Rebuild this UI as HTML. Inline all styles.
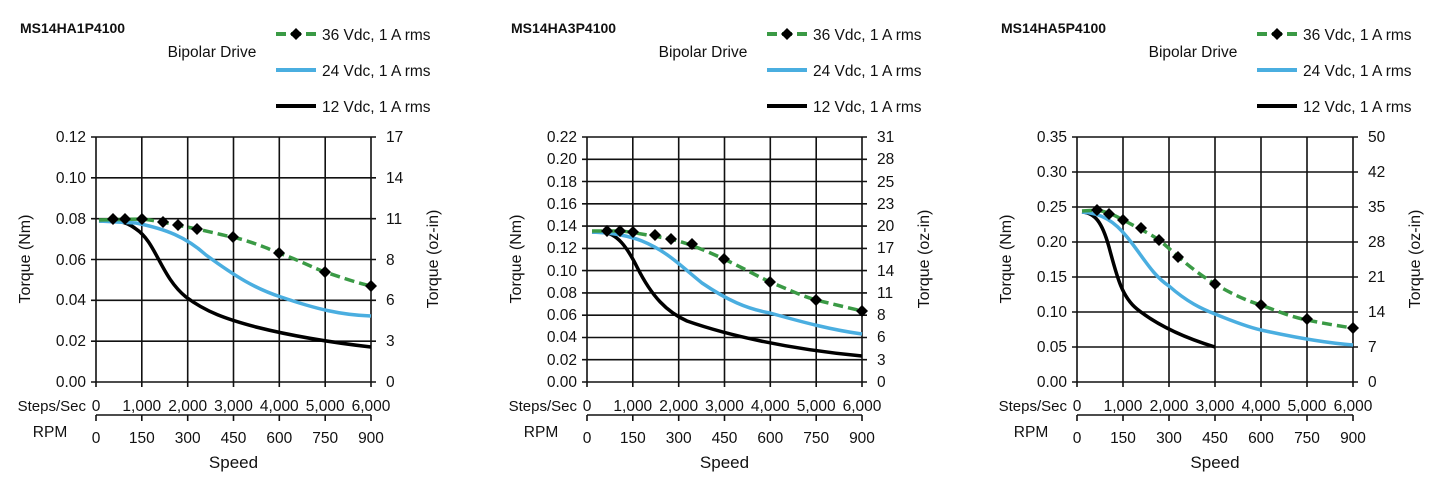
<!DOCTYPE html>
<html><head><meta charset="utf-8"><style>
html,body{margin:0;padding:0;background:#fff}
svg{display:block}
text{font-family:"Liberation Sans",Arial,sans-serif;fill:#111}
.t{font-size:15.5px}
.g{stroke:#111;stroke-width:1.6;fill:none}
</style></head><body>
<svg width="1446" height="491" viewBox="0 0 1446 491" xmlns="http://www.w3.org/2000/svg">
<defs>
<path id="dm" d="M0,-6 L6,0 L0,6 L-6,0Z" fill="#000"/>
</defs>

<!-- CHART 1 -->
<g transform="translate(96,137)">
<text x="-76" y="-104" font-size="14" font-weight="bold">MS14HA1P4100</text>
<text x="116" y="-80" class="t" text-anchor="middle">Bipolar Drive</text>
<line x1="180" y1="-103" x2="220" y2="-103" stroke="#3a9a45" stroke-width="4" stroke-dasharray="10,5"/><use href="#dm" x="200" y="-103"/>
<text x="226" y="-97" class="t">36 Vdc, 1 A rms</text>
<line x1="180" y1="-67" x2="220" y2="-67" stroke="#4aaee0" stroke-width="4"/>
<text x="226" y="-61" class="t">24 Vdc, 1 A rms</text>
<line x1="180" y1="-31" x2="220" y2="-31" stroke="#000" stroke-width="4"/>
<text x="226" y="-25" class="t">12 Vdc, 1 A rms</text>
<path class="g" d="M-5,0H280M-5,40.8H280M-5,81.7H280M-5,122.5H280M-5,163.3H280M-5,204.2H280M-5,245H280M0,0V250M45.8,0V250M91.7,0V250M137.5,0V250M183.3,0V250M229.2,0V250M275,0V250"/>
<g class="t" text-anchor="end"><text x="-10" y="5">0.12</text><text x="-10" y="46">0.10</text><text x="-10" y="87">0.08</text><text x="-10" y="128">0.06</text><text x="-10" y="168">0.04</text><text x="-10" y="209">0.02</text><text x="-10" y="250">0.00</text></g>
<g class="t"><text x="290" y="5">17</text><text x="290" y="46">14</text><text x="290" y="87">11</text><text x="290" y="128">8</text><text x="290" y="168">6</text><text x="290" y="209">3</text><text x="290" y="250">0</text></g>
<text transform="translate(-66,122) rotate(-90)" font-size="16" text-anchor="middle">Torque (Nm)</text>
<text transform="translate(342,122) rotate(-90)" font-size="16" text-anchor="middle">Torque (oz-in)</text>
<path d="M3,84 C20,83 30,84 40,92 C60,105 65,140 90,160 C110,175 130,182 160,190 C200,200 240,206 275,210" stroke="#000" stroke-width="3.5" fill="none"/>
<path d="M3,84 L40,86 C70,92 90,100 110,118 C140,140 160,152 185,160 C220,172 245,178 275,179" stroke="#4aaee0" stroke-width="3.5" fill="none"/>
<path d="M3,83 L46,82 C70,85 85,89 101,92 C120,96 130,99 137,100 C160,106 170,111 183,116 C205,124 215,130 229,135 C250,142 262,146 275,149" stroke="#3a9a45" stroke-width="3.5" stroke-dasharray="10,5" fill="none"/>
<use href="#dm" x="17" y="82"/><use href="#dm" x="29" y="82"/><use href="#dm" x="46" y="82"/><use href="#dm" x="67" y="85"/><use href="#dm" x="82" y="88"/><use href="#dm" x="101" y="92"/><use href="#dm" x="137" y="100"/><use href="#dm" x="183" y="116"/><use href="#dm" x="229" y="135"/><use href="#dm" x="275" y="149"/>
<g class="t" text-anchor="middle"><text x="0" y="274">0</text><text x="45.8" y="274">1,000</text><text x="91.7" y="274">2,000</text><text x="137.5" y="274">3,000</text><text x="183.3" y="274">4,000</text><text x="229.2" y="274">5,000</text><text x="275" y="274">6,000</text>
<text x="0" y="306">0</text><text x="45.8" y="306">150</text><text x="91.7" y="306">300</text><text x="137.5" y="306">450</text><text x="183.3" y="306">600</text><text x="229.2" y="306">750</text><text x="275" y="306">900</text>
<text x="-46" y="300">RPM</text><text x="137.5" y="331" font-size="17">Speed</text></g>
<text x="-10" y="274" font-size="15" text-anchor="end">Steps/Sec</text>
<path class="g" d="M0,278H275M0,278V284M45.8,278V284M91.7,278V284M137.5,278V284M183.3,278V284M229.2,278V284M275,278V284"/>
</g>

<!-- CHART 2 -->
<g transform="translate(587,137)">
<text x="-76" y="-104" font-size="14" font-weight="bold">MS14HA3P4100</text>
<text x="116" y="-80" class="t" text-anchor="middle">Bipolar Drive</text>
<line x1="180" y1="-103" x2="220" y2="-103" stroke="#3a9a45" stroke-width="4" stroke-dasharray="10,5"/><use href="#dm" x="200" y="-103"/>
<text x="226" y="-97" class="t">36 Vdc, 1 A rms</text>
<line x1="180" y1="-67" x2="220" y2="-67" stroke="#4aaee0" stroke-width="4"/>
<text x="226" y="-61" class="t">24 Vdc, 1 A rms</text>
<line x1="180" y1="-31" x2="220" y2="-31" stroke="#000" stroke-width="4"/>
<text x="226" y="-25" class="t">12 Vdc, 1 A rms</text>
<path class="g" d="M-5,0H280M-5,22.3H280M-5,44.5H280M-5,66.8H280M-5,89.1H280M-5,111.4H280M-5,133.6H280M-5,155.9H280M-5,178.2H280M-5,200.5H280M-5,222.7H280M-5,245H280M0,0V250M45.8,0V250M91.7,0V250M137.5,0V250M183.3,0V250M229.2,0V250M275,0V250"/>
<g class="t" text-anchor="end"><text x="-10" y="5">0.22</text><text x="-10" y="27">0.20</text><text x="-10" y="50">0.18</text><text x="-10" y="72">0.16</text><text x="-10" y="94">0.14</text><text x="-10" y="116">0.12</text><text x="-10" y="139">0.10</text><text x="-10" y="161">0.08</text><text x="-10" y="183">0.06</text><text x="-10" y="205">0.04</text><text x="-10" y="228">0.02</text><text x="-10" y="250">0.00</text></g>
<g class="t"><text x="290" y="5">31</text><text x="290" y="27">28</text><text x="290" y="50">25</text><text x="290" y="72">23</text><text x="290" y="94">20</text><text x="290" y="116">17</text><text x="290" y="139">14</text><text x="290" y="161">11</text><text x="290" y="183">8</text><text x="290" y="205">6</text><text x="290" y="228">3</text><text x="290" y="250">0</text></g>
<text transform="translate(-66,122) rotate(-90)" font-size="16" text-anchor="middle">Torque (Nm)</text>
<text transform="translate(342,122) rotate(-90)" font-size="16" text-anchor="middle">Torque (oz-in)</text>
<path d="M5,95 L15,95 C30,96 40,110 50,130 C65,160 80,175 100,184 C140,198 200,212 275,219" stroke="#000" stroke-width="3.5" fill="none"/>
<path d="M5,95 C25,96 40,98 55,104 C80,114 95,130 115,146 C140,163 160,172 183,176 C215,185 245,193 275,197" stroke="#4aaee0" stroke-width="3.5" fill="none"/>
<path d="M5,94 L35,94 C50,96 60,98 84,102 C100,106 115,112 137,122 C160,133 170,139 183,145 C205,154 215,159 229,163 C250,168 262,171 275,174" stroke="#3a9a45" stroke-width="3.5" stroke-dasharray="10,5" fill="none"/>
<use href="#dm" x="20" y="94"/><use href="#dm" x="33" y="94"/><use href="#dm" x="46" y="95"/><use href="#dm" x="68" y="98"/><use href="#dm" x="84" y="102"/><use href="#dm" x="105" y="107"/><use href="#dm" x="137" y="122"/><use href="#dm" x="183" y="145"/><use href="#dm" x="229" y="163"/><use href="#dm" x="275" y="174"/>
<g class="t" text-anchor="middle"><text x="0" y="274">0</text><text x="45.8" y="274">1,000</text><text x="91.7" y="274">2,000</text><text x="137.5" y="274">3,000</text><text x="183.3" y="274">4,000</text><text x="229.2" y="274">5,000</text><text x="275" y="274">6,000</text>
<text x="0" y="306">0</text><text x="45.8" y="306">150</text><text x="91.7" y="306">300</text><text x="137.5" y="306">450</text><text x="183.3" y="306">600</text><text x="229.2" y="306">750</text><text x="275" y="306">900</text>
<text x="-46" y="300">RPM</text><text x="137.5" y="331" font-size="17">Speed</text></g>
<text x="-10" y="274" font-size="15" text-anchor="end">Steps/Sec</text>
<path class="g" d="M0,278H275M0,278V284M45.8,278V284M91.7,278V284M137.5,278V284M183.3,278V284M229.2,278V284M275,278V284"/>
</g>

<!-- CHART 3 -->
<g transform="translate(1077,137)">
<text x="-76" y="-104" font-size="14" font-weight="bold">MS14HA5P4100</text>
<text x="116" y="-80" class="t" text-anchor="middle">Bipolar Drive</text>
<line x1="180" y1="-103" x2="220" y2="-103" stroke="#3a9a45" stroke-width="4" stroke-dasharray="10,5"/><use href="#dm" x="200" y="-103"/>
<text x="226" y="-97" class="t">36 Vdc, 1 A rms</text>
<line x1="180" y1="-67" x2="220" y2="-67" stroke="#4aaee0" stroke-width="4"/>
<text x="226" y="-61" class="t">24 Vdc, 1 A rms</text>
<line x1="180" y1="-31" x2="220" y2="-31" stroke="#000" stroke-width="4"/>
<text x="226" y="-25" class="t">12 Vdc, 1 A rms</text>
<path class="g" d="M-5,0H281M-5,35H281M-5,70H281M-5,105H281M-5,140H281M-5,175H281M-5,210H281M-5,245H281M0,0V250M46,0V250M92,0V250M138,0V250M184,0V250M230,0V250M276,0V250"/>
<g class="t" text-anchor="end"><text x="-10" y="5">0.35</text><text x="-10" y="40">0.30</text><text x="-10" y="75">0.25</text><text x="-10" y="110">0.20</text><text x="-10" y="145">0.15</text><text x="-10" y="180">0.10</text><text x="-10" y="215">0.05</text><text x="-10" y="250">0.00</text></g>
<g class="t"><text x="291" y="5">50</text><text x="291" y="40">42</text><text x="291" y="75">35</text><text x="291" y="110">28</text><text x="291" y="145">21</text><text x="291" y="180">14</text><text x="291" y="215">7</text><text x="291" y="250">0</text></g>
<text transform="translate(-66,122) rotate(-90)" font-size="16" text-anchor="middle">Torque (Nm)</text>
<text transform="translate(343,122) rotate(-90)" font-size="16" text-anchor="middle">Torque (oz-in)</text>
<path d="M5,75 C18,76 25,85 32,110 C40,140 45,160 60,172 C80,188 105,200 138,210" stroke="#000" stroke-width="3.5" fill="none"/>
<path d="M5,75 C25,76 38,85 50,100 C65,118 75,138 92,149 C110,165 125,172 138,177 C160,186 175,191 184,193 C220,201 250,206 276,208" stroke="#4aaee0" stroke-width="3.5" fill="none"/>
<path d="M5,74 L20,73 C35,76 40,80 50,85 C65,93 75,98 82,103 C95,113 110,130 138,147 C155,157 170,164 184,168 C205,176 215,180 230,183 C250,187 262,189 276,191" stroke="#3a9a45" stroke-width="3.5" stroke-dasharray="10,5" fill="none"/>
<use href="#dm" x="20" y="73"/><use href="#dm" x="32" y="77"/><use href="#dm" x="46" y="83"/><use href="#dm" x="64" y="91"/><use href="#dm" x="82" y="103"/><use href="#dm" x="101" y="120"/><use href="#dm" x="138" y="147"/><use href="#dm" x="184" y="168"/><use href="#dm" x="230" y="182"/><use href="#dm" x="276" y="191"/>
<g class="t" text-anchor="middle"><text x="0" y="274">0</text><text x="46" y="274">1,000</text><text x="92" y="274">2,000</text><text x="138" y="274">3,000</text><text x="184" y="274">4,000</text><text x="230" y="274">5,000</text><text x="276" y="274">6,000</text>
<text x="0" y="306">0</text><text x="46" y="306">150</text><text x="92" y="306">300</text><text x="138" y="306">450</text><text x="184" y="306">600</text><text x="230" y="306">750</text><text x="276" y="306">900</text>
<text x="-46" y="300">RPM</text><text x="138" y="331" font-size="17">Speed</text></g>
<text x="-10" y="274" font-size="15" text-anchor="end">Steps/Sec</text>
<path class="g" d="M0,278H276M0,278V284M46,278V284M92,278V284M138,278V284M184,278V284M230,278V284M276,278V284"/>
</g>
</svg>
</body></html>
